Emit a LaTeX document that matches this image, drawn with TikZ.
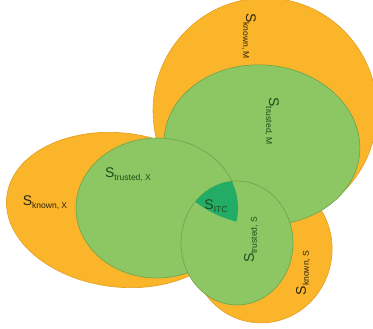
\documentclass[tikz,border=0pt]{standalone}
\usepackage{fontspec}
\setmainfont{Liberation Sans}
\definecolor{orfill}{HTML}{FBB52B}
\definecolor{ordraw}{HTML}{E39E22}
\definecolor{grfill}{HTML}{8CC763}
\definecolor{grdraw}{HTML}{6AA44A}
\definecolor{itcfill}{HTML}{22AC66}
\definecolor{txtdark}{HTML}{2A2410}
\definecolor{txtgreen}{HTML}{1F4A1A}
\newcommand\mylabel[1]{\fontsize{14}{14}\selectfont S\raisebox{-3pt}{\fontsize{8.5}{9}\selectfont #1}}
\tikzset{
  orset/.style={fill=orfill, draw=ordraw, line width=0.6pt},
  grset/.style={fill=grfill, draw=grdraw, line width=0.6pt},
  lab/.style={inner sep=0pt},
}
\begin{document}
\begin{tikzpicture}[x=1pt,y=1pt]
\useasboundingbox (0,-329) rectangle (373,0);
% orange sets
\draw[orset] (265,-111) ellipse [x radius=112, y radius=113];
\draw[orset, rotate around={-7:(120,-210)}] (120,-210) ellipse [x radius=114, y radius=77];
\draw[orset, rotate around={-10:(262,-250)}] (262,-250) ellipse [x radius=70, y radius=73];
% green sets
\draw[grset, rotate around={-5:(262,-145)}] (262,-145) ellipse [x radius=98, y radius=80];
\draw[grset] (157,-208) ellipse [x radius=81, y radius=70];
\draw[grset] (237,-243) ellipse [x radius=56, y radius=62];
% intersection
\begin{scope}
  \clip[rotate around={-5:(262,-145)}] (262,-145) ellipse [x radius=98, y radius=80];
  \clip (157,-208) ellipse [x radius=81, y radius=70];
  \fill[itcfill] (237,-243) ellipse [x radius=56, y radius=62];
\end{scope}
% labels
\node[lab, text=txtdark, rotate=-90] (km) at (249,-36) {\mylabel{known, M}};
\node[lab, text=txtgreen, rotate=-90] (tm) at (272,-121) {\mylabel{trusted, M}};
\node[lab, text=txtgreen] (tx) at (128,-175) {\mylabel{trusted, X}};
\node[lab, text=txtdark] (kx) at (45,-203) {\mylabel{known, X}};
\node[lab, text=txtgreen] (itc) at (216,-206) {\mylabel{ITC}};
\node[lab, text=txtgreen, rotate=90] (ts) at (251,-240) {\mylabel{trusted, S}};
\node[lab, text=txtdark, rotate=90] (ks) at (303,-273) {\mylabel{known, S}};
\end{tikzpicture}
\end{document}
